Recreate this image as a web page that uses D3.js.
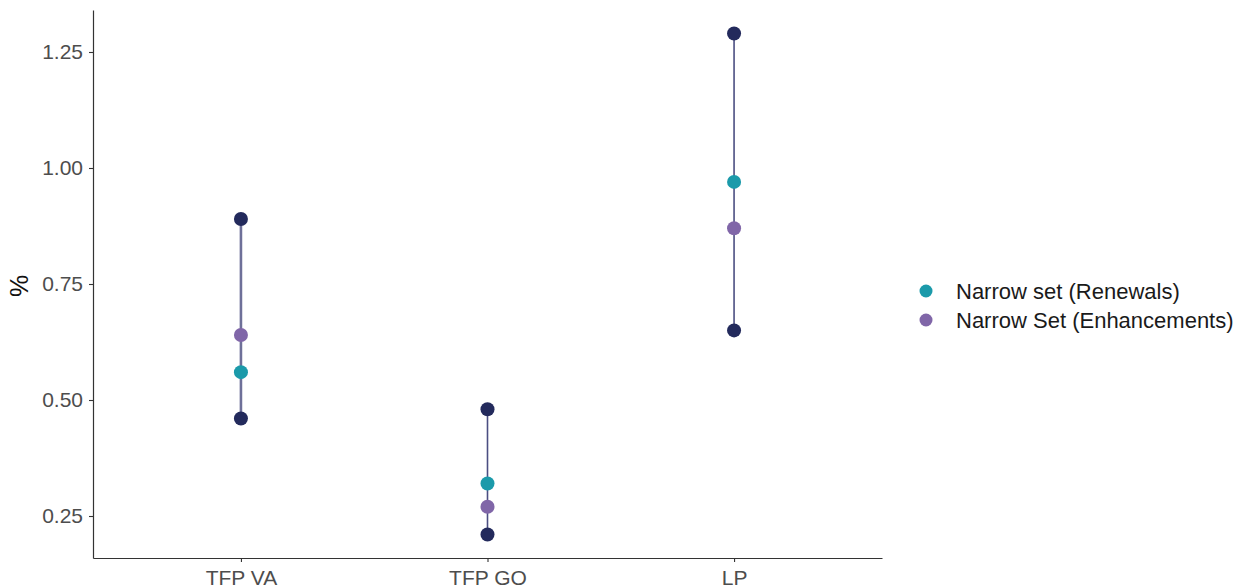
<!DOCTYPE html>
<html>
<head>
<meta charset="utf-8">
<script src="https://cdn.jsdelivr.net/npm/d3@7"></script>
<style>
  html, body { margin: 0; padding: 0; background: #fff; }
  svg { display: block; font-family: Arial, "Liberation Sans", sans-serif; }
</style>
</head>
<body>
<svg id="chart" width="1243" height="588"></svg>
<script>
const categories = ["TFP VA", "TFP GO", "LP"];
const rangeMin = [0.46, 0.21, 0.65];
const rangeMax = [0.89, 0.48, 1.29];
const renewals = [0.56, 0.32, 0.97];
const enhancements = [0.64, 0.27, 0.87];
const yTicks = [0.25, 0.50, 0.75, 1.00, 1.25];
const seriesNames = ["Narrow set (Renewals)", "Narrow Set (Enhancements)"];

const colors = { range: "#232a5c", renewals: "#1b9aaa", enhancements: "#8066a8" };

(function () {
const svg = d3.select("#chart");
const mLeft = 93, mRight = 882, mTop = 10, mBottom = 558;

const x = d3.scalePoint().domain(categories).range([mLeft, mRight]).padding(0.6);
const y = d3.scaleLinear().domain([0.1595, 1.3405]).range([mBottom, mTop]);

// axes
const yAxis = svg.append("g").attr("transform", `translate(${mLeft},0)`)
  .call(d3.axisLeft(y).tickValues(yTicks).tickFormat(d3.format(".2f")).tickSize(4).tickSizeOuter(0).tickPadding(6));
const xAxis = svg.append("g").attr("transform", `translate(0,${mBottom})`)
  .call(d3.axisBottom(x).tickSize(4).tickSizeOuter(0).tickPadding(8));
[yAxis, xAxis].forEach(g => {
  g.select(".domain").attr("stroke", "#333").attr("stroke-width", 1.2);
  g.selectAll(".tick line").attr("stroke", "#333").attr("stroke-width", 1.1);
  g.selectAll(".tick text").attr("fill", "#4d4d4d").style("font-size", "21px");
});

svg.append("text")
  .attr("transform", "translate(28,286) rotate(-90)")
  .attr("text-anchor", "middle")
  .style("font-size", "25px").attr("fill", "#111")
  .text("%");

// range lines
const data = categories.map((c, i) => ({ c, min: rangeMin[i], max: rangeMax[i], r: renewals[i], e: enhancements[i] }));
svg.append("g").selectAll("line").data(data).join("line")
  .attr("x1", d => x(d.c)).attr("x2", d => x(d.c))
  .attr("y1", d => y(d.min)).attr("y2", d => y(d.max))
  .attr("stroke", (d, i) => i === 0 ? "#6e7099" : "#4b4e82")
  .attr("stroke-width", (d, i) => i === 0 ? 2.6 : 1.6);

const pts = svg.append("g");
const addPts = (key, color) => pts.append("g").selectAll("circle").data(data).join("circle")
  .attr("cx", d => x(d.c)).attr("cy", d => y(d[key])).attr("r", 7).attr("fill", color);
addPts("min", colors.range);
addPts("max", colors.range);
addPts("r", colors.renewals);
addPts("e", colors.enhancements);

// legend
const legend = svg.append("g").attr("transform", "translate(926,291)");
const legColors = [colors.renewals, colors.enhancements];
seriesNames.forEach((name, i) => {
  const g = legend.append("g").attr("transform", `translate(0,${i * 29})`);
  g.append("circle").attr("r", 6.5).attr("fill", legColors[i]);
  g.append("text").attr("x", 30).attr("y", 8).style("font-size", "22px").attr("fill", "#1a1a1a").text(name);
});
})();
</script>
</body>
</html>
